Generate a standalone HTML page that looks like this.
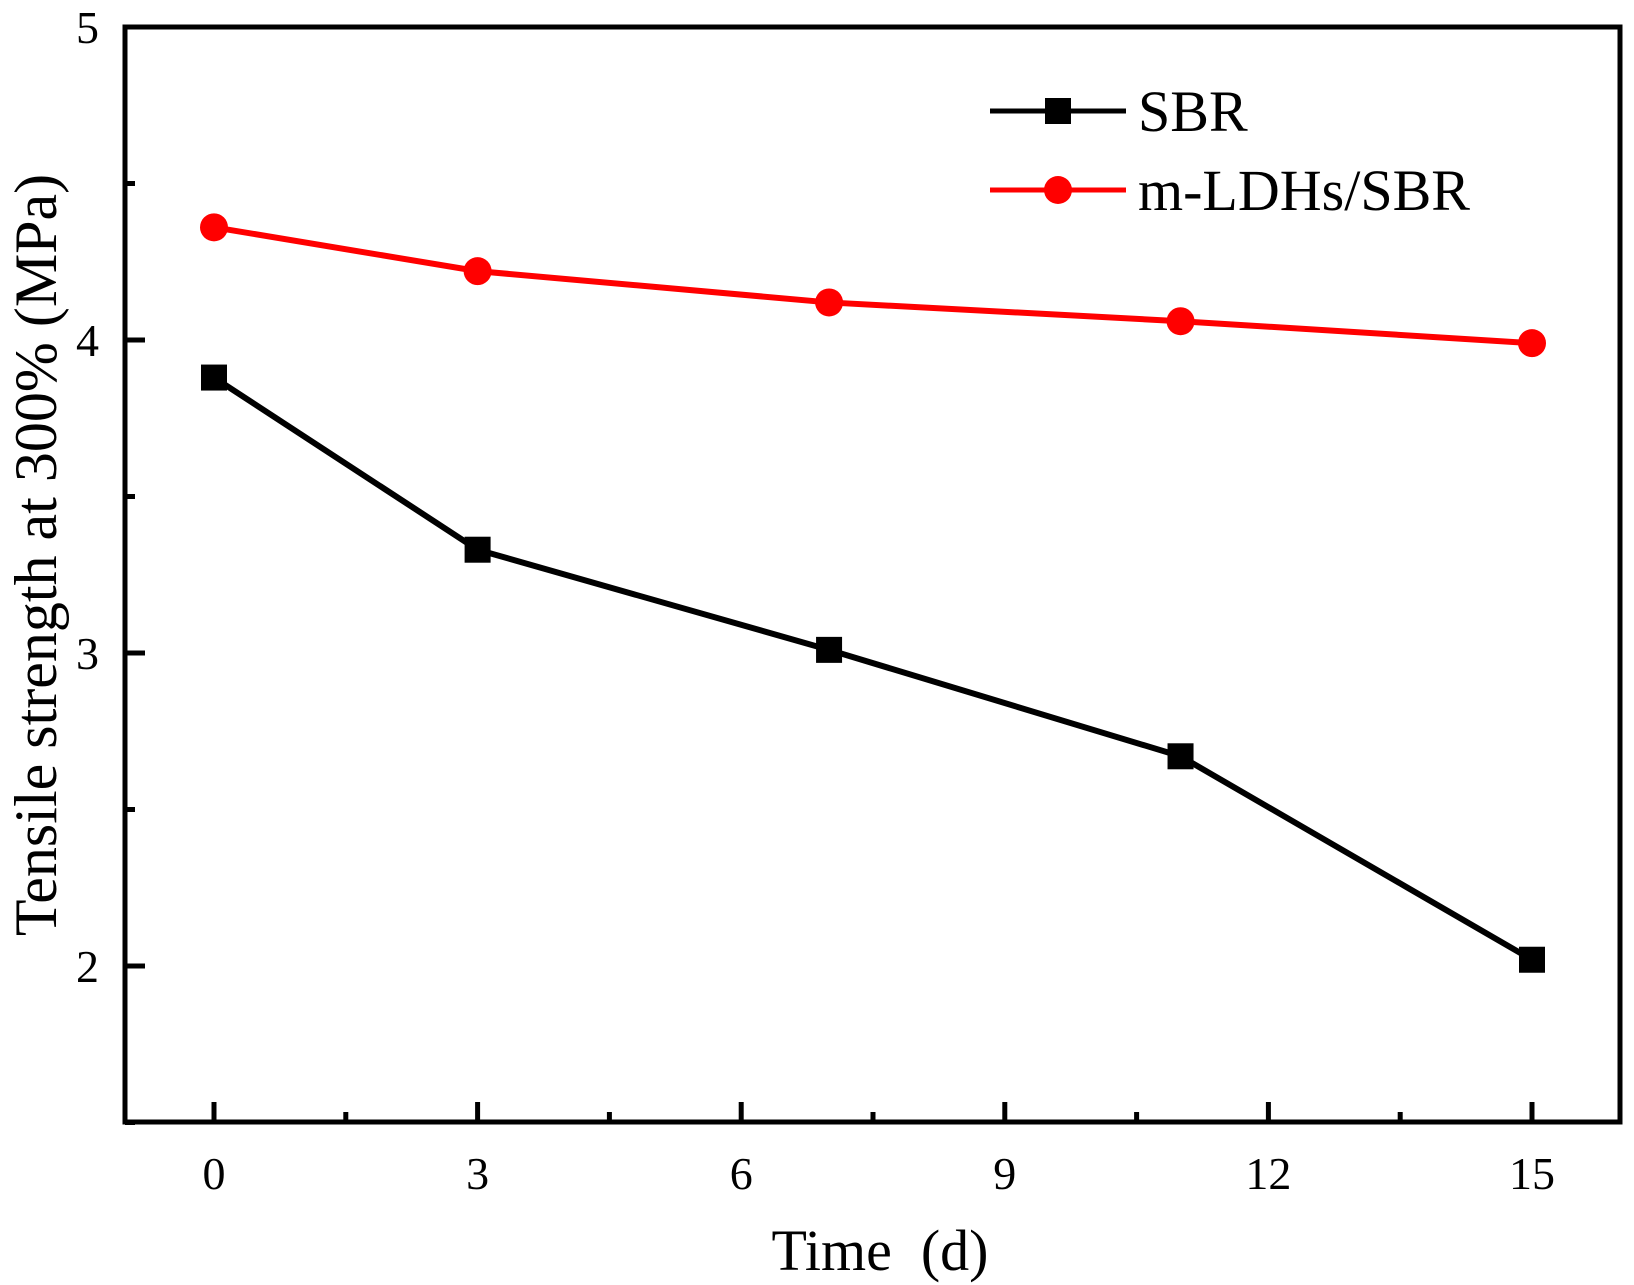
<!DOCTYPE html>
<html><head><meta charset="utf-8"><style>
html,body{margin:0;padding:0;background:#fff}
svg{display:block}
text{font-family:"Liberation Serif",serif;fill:#000}
</style></head><body>
<svg id="chart" width="1634" height="1285" viewBox="0 0 1634 1285" xmlns="http://www.w3.org/2000/svg">
<g id="axes"></g>
<g id="series"></g>
<text x="0" y="0" font-size="60" text-anchor="middle" transform="translate(56,555) rotate(-90)">Tensile strength at 300% (MPa)</text>
<text x="880" y="1270" font-size="58" text-anchor="middle" xml:space="preserve">Time  (d)</text>
<g>
<line x1="990" y1="111" x2="1126" y2="111" stroke="#000" stroke-width="5"/>
<rect x="1045" y="98" width="26" height="26" fill="#000"/>
<text x="1138" y="131" font-size="58">SBR</text>
<line x1="990" y1="190" x2="1126" y2="190" stroke="#f00" stroke-width="5"/>
<circle cx="1058" cy="190" r="14" fill="#f00"/>
<text x="1138" y="210" font-size="58">m-LDHs/SBR</text>
</g>
</svg>
<script>
const xValues = [0, 3, 7, 11, 15];
const sbrValues = [3.88, 3.33, 3.01, 2.67, 2.02];
const ldhValues = [4.36, 4.22, 4.12, 4.06, 3.99];
const xTicks = [0, 3, 6, 9, 12, 15];
const yTicks = [2, 3, 4, 5];

const L=125,R=1620,T=27,B=1122;
const X=v=>214+(v-0)*(1532-214)/15;
const Y=v=>340-(v-4)*313;
const NS='http://www.w3.org/2000/svg';
function mk(tag,attrs,parent){const e=document.createElementNS(NS,tag);for(const k in attrs)e.setAttribute(k,attrs[k]);parent.appendChild(e);return e;}
const axes=document.getElementById('axes');
const frame=mk('rect',{x:L,y:T,width:R-L,height:B-T,fill:'none',stroke:'#000','stroke-width':5},axes);


xTicks.forEach(t=>{
  const tk=mk('line',{x1:X(t),x2:X(t),y1:B,y2:B-20,stroke:'#000','stroke-width':5},axes);
  
  
  const m=mk('line',{x1:X(t+1.5),x2:X(t+1.5),y1:B,y2:B-10,stroke:'#000','stroke-width':5},axes);
  
  
  const lb=mk('text',{x:X(t),y:1189,'font-size':46,'text-anchor':'middle'},axes);
  lb.textContent=t;
  
  
});
yTicks.forEach(t=>{
  const tk=mk('line',{x1:L,x2:L+20,y1:Y(t),y2:Y(t),stroke:'#000','stroke-width':5},axes);
  
  
  const m=mk('line',{x1:L,x2:L+10,y1:Y(t-0.5),y2:Y(t-0.5),stroke:'#000','stroke-width':5},axes);
  
  
  const lb=mk('text',{x:99,y:Y(t)+16,'font-size':46,'text-anchor':'end'},axes);
  lb.textContent=t;
  
  
});
const sg=document.getElementById('series');
function series(vals,color,kind,name){
  const pts=xValues.map((x,i)=>X(x)+','+Y(vals[i])).join(' ');
  const pl=mk('polyline',{points:pts,fill:'none',stroke:color,'stroke-width':6},sg);
  
  
  xValues.forEach((x,i)=>{
    let e;
    if(kind==='sq') e=mk('rect',{x:X(x)-13,y:Y(vals[i])-13,width:26,height:26,fill:color},sg);
    else e=mk('circle',{cx:X(x),cy:Y(vals[i]),r:14,fill:color},sg);
    
    
  });
}
series(ldhValues,'#f00','c','mldhs');
series(sbrValues,'#000','sq','sbr');
</script>
</body></html>
